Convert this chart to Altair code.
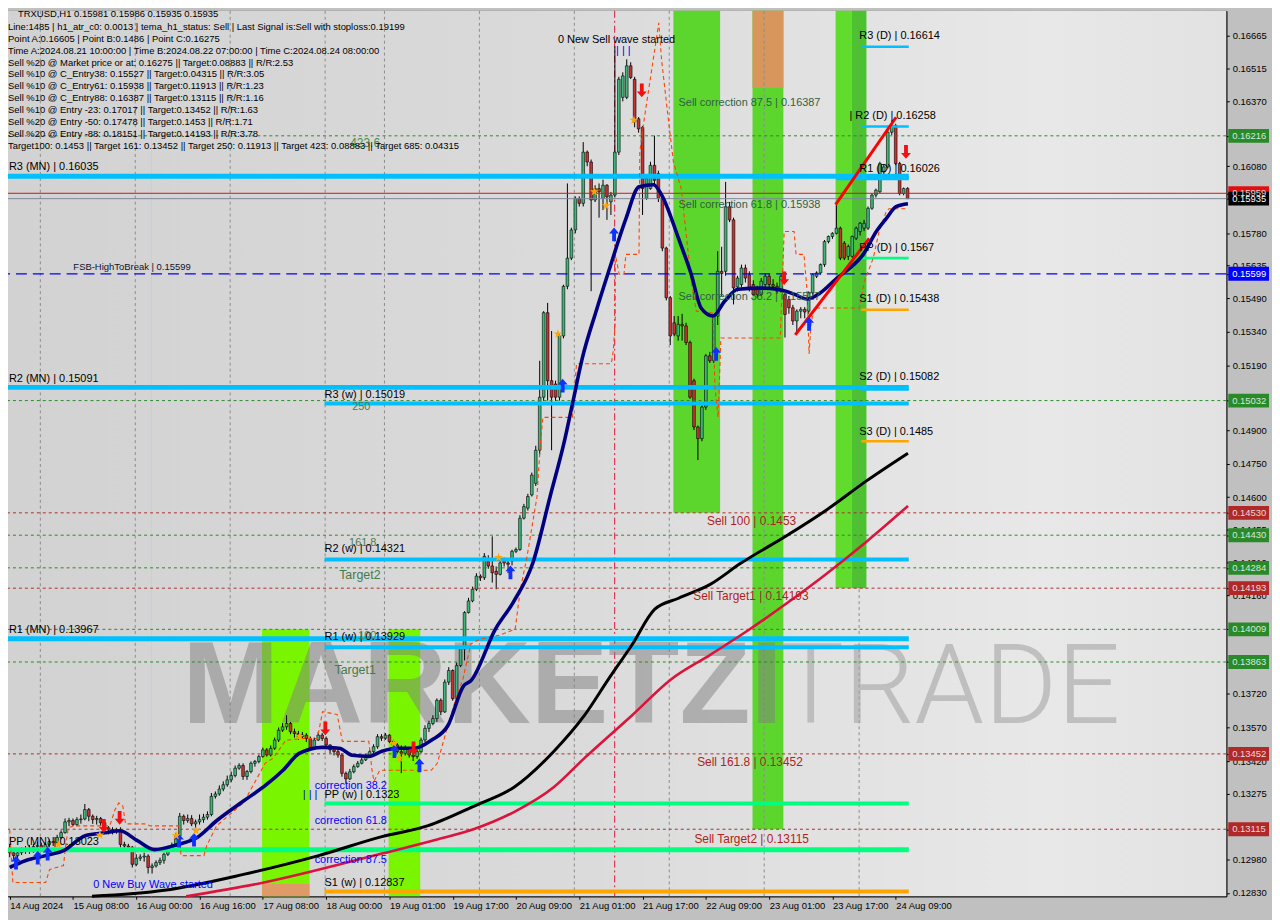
import altair as alt
import pandas as pd

# ---------------- data ----------------
bar_open = [
    0.13024, 0.13010, 0.12997, 0.13010, 0.13019, 0.13028, 0.13015, 0.13038, 0.13042, 0.13028, 0.13046, 0.13060,
    0.13055, 0.13078, 0.13100, 0.13148, 0.13154, 0.13136, 0.13158, 0.13161, 0.13203, 0.13173, 0.13158, 0.13163,
    0.13144, 0.13121, 0.13114, 0.13107, 0.13110, 0.13047, 0.13040, 0.13035, 0.12958, 0.12985, 0.12991, 0.12995,
    0.12944, 0.12951, 0.12966, 0.12976, 0.13003, 0.13021, 0.13040, 0.13084, 0.13173, 0.13154, 0.13163, 0.13139,
    0.13148, 0.13158, 0.13169, 0.13181, 0.13262, 0.13273, 0.13295, 0.13314, 0.13336, 0.13355, 0.13388, 0.13400,
    0.13351, 0.13373, 0.13410, 0.13418, 0.13440, 0.13470, 0.13447, 0.13477, 0.13514, 0.13558, 0.13573, 0.13588,
    0.13551, 0.13543, 0.13529, 0.13536, 0.13521, 0.13477, 0.13514, 0.13536, 0.13521, 0.13492, 0.13470, 0.13462,
    0.13447, 0.13365, 0.13340, 0.13372, 0.13395, 0.13410, 0.13425, 0.13440, 0.13462, 0.13484, 0.13529, 0.13522,
    0.13536, 0.13507, 0.13492, 0.13462, 0.13455, 0.13477, 0.13447, 0.13440, 0.13462, 0.13514, 0.13566, 0.13588,
    0.13610, 0.13692, 0.13640, 0.13773, 0.13825, 0.13699, 0.13847, 0.13921, 0.14084, 0.14136, 0.14188, 0.14247,
    0.14240, 0.14314, 0.14292, 0.14269, 0.14255, 0.14321, 0.14306, 0.14314, 0.14358, 0.14366, 0.14506, 0.14551,
    0.14610, 0.14662, 0.14810, 0.15047, 0.15425, 0.15121, 0.15106, 0.15047, 0.15321, 0.15543, 0.15669, 0.15795,
    0.15936, 0.15914, 0.16143, 0.16099, 0.15929, 0.15980, 0.15936, 0.15995, 0.15921, 0.15951, 0.16143, 0.16388,
    0.16388, 0.16529, 0.16469, 0.16292, 0.16254, 0.15936, 0.15980, 0.16084, 0.16047, 0.15936, 0.15714, 0.15492,
    0.15380, 0.15321, 0.15373, 0.15366, 0.15292, 0.15121, 0.14914, 0.14862, 0.15003, 0.15232, 0.15210, 0.15410,
    0.15610, 0.15610, 0.15899, 0.15840, 0.15540, 0.15551, 0.15625, 0.15595, 0.15551, 0.15536, 0.15506, 0.15551,
    0.15588, 0.15551, 0.15543, 0.15521, 0.15506, 0.15484, 0.15447, 0.15388, 0.15432, 0.15440, 0.15432, 0.15514,
    0.15588, 0.15603, 0.15640, 0.15743, 0.15766, 0.15780, 0.15803, 0.15736, 0.15677, 0.15677, 0.15758, 0.15788,
    0.15803, 0.15803, 0.15892, 0.15951, 0.15966, 0.16054, 0.16077, 0.16232, 0.16262, 0.16092, 0.15958, 0.15981,
]
bar_high = [
    0.13050, 0.13030, 0.13025, 0.13035, 0.13040, 0.13045, 0.13050, 0.13060, 0.13055, 0.13055, 0.13070, 0.13080,
    0.13090, 0.13110, 0.13163, 0.13166, 0.13163, 0.13169, 0.13181, 0.13228, 0.13210, 0.13181, 0.13175, 0.13170,
    0.13151, 0.13129, 0.13124, 0.13121, 0.13124, 0.13059, 0.13050, 0.13040, 0.13003, 0.13003, 0.13010, 0.13003,
    0.12962, 0.12976, 0.12988, 0.13010, 0.13035, 0.13055, 0.13099, 0.13188, 0.13181, 0.13181, 0.13178, 0.13158,
    0.13181, 0.13184, 0.13195, 0.13277, 0.13284, 0.13311, 0.13329, 0.13355, 0.13373, 0.13400, 0.13410, 0.13410,
    0.13380, 0.13418, 0.13425, 0.13448, 0.13480, 0.13478, 0.13490, 0.13525, 0.13570, 0.13590, 0.13625, 0.13595,
    0.13565, 0.13555, 0.13550, 0.13545, 0.13530, 0.13525, 0.13550, 0.13545, 0.13530, 0.13495, 0.13480, 0.13475,
    0.13455, 0.13373, 0.13385, 0.13405, 0.13420, 0.13435, 0.13450, 0.13470, 0.13495, 0.13540, 0.13540, 0.13545,
    0.13540, 0.13515, 0.13500, 0.13490, 0.13490, 0.13480, 0.13460, 0.13470, 0.13525, 0.13580, 0.13600, 0.13625,
    0.13700, 0.13700, 0.13785, 0.13840, 0.13830, 0.13860, 0.13930, 0.14090, 0.14150, 0.14200, 0.14260, 0.14255,
    0.14350, 0.14340, 0.14425, 0.14290, 0.14320, 0.14330, 0.14320, 0.14365, 0.14375, 0.14520, 0.14570, 0.14615,
    0.14710, 0.14830, 0.15210, 0.15432, 0.15469, 0.15343, 0.15121, 0.15330, 0.15550, 0.16003, 0.15805, 0.15945,
    0.15945, 0.16188, 0.16150, 0.16110, 0.15995, 0.16003, 0.16020, 0.16000, 0.15965, 0.16617, 0.16480, 0.16500,
    0.16558, 0.16545, 0.16480, 0.16300, 0.16260, 0.16040, 0.16100, 0.16217, 0.16060, 0.15945, 0.15720, 0.15500,
    0.15410, 0.15410, 0.15420, 0.15380, 0.15300, 0.15130, 0.14920, 0.15010, 0.15240, 0.15250, 0.15410, 0.15700,
    0.15720, 0.16010, 0.15920, 0.15850, 0.15590, 0.15640, 0.15640, 0.15610, 0.15570, 0.15545, 0.15580, 0.15600,
    0.15600, 0.15575, 0.15560, 0.15595, 0.15520, 0.15500, 0.15460, 0.15440, 0.15450, 0.15450, 0.15520, 0.15600,
    0.15610, 0.15645, 0.15750, 0.15770, 0.15785, 0.15906, 0.15810, 0.15745, 0.15730, 0.15770, 0.15810, 0.15830,
    0.15840, 0.15900, 0.15960, 0.15980, 0.16100, 0.16090, 0.16240, 0.16284, 0.16270, 0.16100, 0.15985, 0.15986,
]
bar_low = [
    0.12990, 0.12975, 0.12985, 0.13000, 0.13005, 0.13005, 0.13010, 0.13020, 0.13015, 0.13020, 0.13035, 0.13040,
    0.13050, 0.13070, 0.13095, 0.13129, 0.13129, 0.13129, 0.13140, 0.13155, 0.13151, 0.13139, 0.13136, 0.13129,
    0.13107, 0.13092, 0.13092, 0.13095, 0.13033, 0.13025, 0.13018, 0.12944, 0.12950, 0.12973, 0.12970, 0.12917,
    0.12917, 0.12944, 0.12955, 0.12961, 0.12995, 0.13015, 0.13035, 0.13077, 0.13136, 0.13144, 0.13129, 0.13121,
    0.13136, 0.13144, 0.13158, 0.13173, 0.13252, 0.13265, 0.13285, 0.13305, 0.13325, 0.13347, 0.13381, 0.13336,
    0.13336, 0.13365, 0.13395, 0.13410, 0.13435, 0.13440, 0.13440, 0.13470, 0.13505, 0.13550, 0.13560, 0.13540,
    0.13525, 0.13515, 0.13520, 0.13505, 0.13465, 0.13470, 0.13510, 0.13510, 0.13485, 0.13455, 0.13445, 0.13435,
    0.13350, 0.13322, 0.13335, 0.13365, 0.13390, 0.13405, 0.13420, 0.13435, 0.13455, 0.13475, 0.13510, 0.13515,
    0.13500, 0.13480, 0.13455, 0.13366, 0.13445, 0.13435, 0.13420, 0.13430, 0.13455, 0.13505, 0.13550, 0.13580,
    0.13595, 0.13625, 0.13635, 0.13760, 0.13690, 0.13690, 0.13840, 0.13870, 0.14080, 0.14130, 0.14180, 0.14225,
    0.14230, 0.14280, 0.14218, 0.14188, 0.14250, 0.14290, 0.14260, 0.14295, 0.14350, 0.14360, 0.14500, 0.14540,
    0.14603, 0.14650, 0.14790, 0.15030, 0.15032, 0.14810, 0.15030, 0.15032, 0.15310, 0.15530, 0.15660, 0.15780,
    0.15900, 0.15900, 0.16080, 0.15521, 0.15920, 0.15850, 0.15884, 0.15840, 0.15862, 0.15940, 0.16130, 0.16370,
    0.16380, 0.16470, 0.16254, 0.16230, 0.15862, 0.15930, 0.15975, 0.16000, 0.15920, 0.15700, 0.15480, 0.15280,
    0.15320, 0.15300, 0.15300, 0.15280, 0.15040, 0.14900, 0.14766, 0.14850, 0.14990, 0.15200, 0.15200, 0.15370,
    0.15500, 0.15590, 0.15830, 0.15462, 0.15520, 0.15540, 0.15560, 0.15520, 0.15500, 0.15490, 0.15500, 0.15540,
    0.15540, 0.15530, 0.15510, 0.15515, 0.15314, 0.15420, 0.15370, 0.15340, 0.15400, 0.15400, 0.15420, 0.15505,
    0.15580, 0.15595, 0.15630, 0.15735, 0.15755, 0.15775, 0.15660, 0.15660, 0.15660, 0.15670, 0.15750, 0.15770,
    0.15790, 0.15795, 0.15885, 0.15940, 0.15960, 0.16040, 0.16070, 0.16220, 0.16085, 0.15950, 0.15950, 0.15935,
]
bar_close = [
    0.13010, 0.12997, 0.13010, 0.13019, 0.13028, 0.13015, 0.13038, 0.13042, 0.13028, 0.13046, 0.13060, 0.13055,
    0.13078, 0.13100, 0.13148, 0.13154, 0.13136, 0.13158, 0.13161, 0.13203, 0.13173, 0.13158, 0.13163, 0.13144,
    0.13121, 0.13114, 0.13107, 0.13110, 0.13047, 0.13040, 0.13035, 0.12958, 0.12985, 0.12991, 0.12995, 0.12944,
    0.12951, 0.12966, 0.12976, 0.13003, 0.13021, 0.13040, 0.13084, 0.13173, 0.13154, 0.13163, 0.13139, 0.13148,
    0.13158, 0.13169, 0.13181, 0.13262, 0.13273, 0.13295, 0.13314, 0.13336, 0.13355, 0.13388, 0.13400, 0.13351,
    0.13373, 0.13410, 0.13418, 0.13440, 0.13470, 0.13447, 0.13477, 0.13514, 0.13558, 0.13573, 0.13588, 0.13551,
    0.13543, 0.13529, 0.13536, 0.13521, 0.13477, 0.13514, 0.13536, 0.13521, 0.13492, 0.13470, 0.13462, 0.13447,
    0.13365, 0.13340, 0.13372, 0.13395, 0.13410, 0.13425, 0.13440, 0.13462, 0.13484, 0.13529, 0.13522, 0.13536,
    0.13507, 0.13492, 0.13462, 0.13455, 0.13477, 0.13447, 0.13440, 0.13462, 0.13514, 0.13566, 0.13588, 0.13610,
    0.13692, 0.13640, 0.13773, 0.13825, 0.13699, 0.13847, 0.13921, 0.14084, 0.14136, 0.14188, 0.14247, 0.14240,
    0.14336, 0.14292, 0.14262, 0.14255, 0.14306, 0.14306, 0.14300, 0.14358, 0.14366, 0.14506, 0.14558, 0.14603,
    0.14699, 0.14810, 0.15047, 0.15425, 0.15121, 0.15047, 0.15047, 0.15321, 0.15543, 0.15669, 0.15795, 0.15936,
    0.15914, 0.16143, 0.16099, 0.15929, 0.15980, 0.15966, 0.15995, 0.15943, 0.15951, 0.16143, 0.16469, 0.16484,
    0.16529, 0.16477, 0.16277, 0.16247, 0.15980, 0.16025, 0.16084, 0.16017, 0.15936, 0.15714, 0.15492, 0.15321,
    0.15329, 0.15373, 0.15366, 0.15292, 0.15047, 0.14914, 0.14862, 0.15003, 0.15232, 0.15210, 0.15410, 0.15610,
    0.15600, 0.15899, 0.15840, 0.15536, 0.15580, 0.15625, 0.15580, 0.15536, 0.15506, 0.15506, 0.15566, 0.15588,
    0.15551, 0.15543, 0.15521, 0.15588, 0.15417, 0.15447, 0.15388, 0.15432, 0.15440, 0.15428, 0.15514, 0.15595,
    0.15603, 0.15640, 0.15743, 0.15766, 0.15780, 0.15803, 0.15669, 0.15669, 0.15721, 0.15766, 0.15803, 0.15825,
    0.15825, 0.15892, 0.15951, 0.15973, 0.16092, 0.16077, 0.16232, 0.16262, 0.16092, 0.15958, 0.15980, 0.15935,
]

time_labels = ["14 Aug 2024", "15 Aug 08:00", "16 Aug 00:00", "16 Aug 16:00", "17 Aug 08:00",
               "18 Aug 00:00", "19 Aug 01:00", "19 Aug 17:00", "20 Aug 09:00", "21 Aug 01:00",
               "21 Aug 17:00", "22 Aug 09:00", "23 Aug 01:00", "23 Aug 17:00", "24 Aug 09:00"]
time_label_bars = [0, 16, 32, 48, 64, 80, 96, 112, 128, 144, 160, 176, 192, 208, 224]

price_ticks = [0.16665, 0.16515, 0.16370, 0.16216, 0.16080, 0.15959, 0.15935, 0.15780, 0.15635, 0.15599,
               0.15490, 0.15340, 0.15190, 0.15032, 0.14900, 0.14750, 0.14600, 0.14530, 0.14455, 0.14430,
               0.14310, 0.14284, 0.14193, 0.14160, 0.14009, 0.13863, 0.13720, 0.13570, 0.13452, 0.13420,
               0.13275, 0.13115, 0.12980, 0.12830]

# highlighted price boxes on the right scale
box_price = [0.16216, 0.15959, 0.15935, 0.15599, 0.15032, 0.14530, 0.14430, 0.14284, 0.14193, 0.14009,
             0.13863, 0.13452, 0.13115]
box_fill = ["#2a8a2a", "#e01010", "#000000", "#0000ff", "#2a8a2a", "#b02828", "#2a8a2a", "#2a8a2a",
            "#b02828", "#2a8a2a", "#2a8a2a", "#b02828", "#b02828"]
box_text = ["#d8e8d8", "#f0d0d0", "#ffffff", "#ffffff", "#d8e8d8", "#f0d8d8", "#d8e8d8", "#d8e8d8",
            "#f0d8d8", "#d8e8d8", "#d8e8d8", "#f0d8d8", "#f0d8d8"]

# dotted level lines
green_levels = [0.16216, 0.15032, 0.14430, 0.14284, 0.14009, 0.13863]
red_levels = [0.14530, 0.14193, 0.13452, 0.13115]
fsb_level = 0.15599
ask_level = 0.15959
bid_level = 0.15935

# pivot lines: price, start bar, end bar, colour, width
piv_price = [0.16035, 0.15091, 0.13967, 0.13023, 0.15019, 0.14321, 0.13929, 0.13230, 0.12837,
             0.16614, 0.16258, 0.16026, 0.15670, 0.15438, 0.15082, 0.14850]
piv_start = [-0.42, -0.42, -0.42, -0.42, 79.6, 79.6, 79.6, 79.6, 79.6,
             215.3, 215.3, 208.9, 215.3, 215.3, 215.3, 215.3]
piv_end = [227.3] * 16
piv_color = ["#00bfff", "#00bfff", "#00bfff", "#00ff7f", "#00bfff", "#00bfff", "#00bfff", "#00ff7f", "#ffa500",
             "#00bfff", "#00bfff", "#00bfff", "#00ff7f", "#ffa500", "#00bfff", "#ffa500"]
piv_width = [5, 5, 5, 5, 4, 4, 4, 4, 4, 2.5, 2.5, 4, 2.5, 2.5, 2.5, 2.5]

# coloured time zones
band_start = [63.8, 63.8, 95.8, 167.8, 187.8, 187.8, 208.8, 212.8]
band_end = [75.8, 75.8, 103.8, 179.6, 195.6, 195.6, 212.8, 216.6]
band_top = [0.14009, 0.12870, 0.14009, 0.16775, 0.16775, 0.16775, 0.16775, 0.16775]
band_bottom = [0.12815, 0.12815, 0.12815, 0.14530, 0.13115, 0.16430, 0.14193, 0.14193]
band_color = ["#7af500", "#e09a68", "#7af500", "#5cd62c", "#5cd62c", "#d8955c", "#62dc2c", "#4cc22e"]

grid_bars = [7.75, 31.75, 55.75, 79.75, 94.75, 118.75, 142.75, 166.75, 190.75, 214.75]

# moving averages (bar, price)
ma_blue_bar = [0, 4.1, 9.1, 13.6, 19.1, 24.1, 27.8, 32.3, 36.6, 42.3, 47.3, 52.3, 59.1, 64.8, 69.1, 73.3,
               79.1, 83.3, 86.6, 90.8, 94.1, 98.3, 102.3, 106.6, 110.8, 114.8, 116.6, 122.8, 127.3, 132.3,
               136.6, 140.3, 142.3, 144.8, 148.3, 151.6, 155.8, 159.1, 162.8, 164.8, 169.1, 172.3, 174.8,
               177.8, 180.8, 184.1, 189.8, 194.1, 198.3, 201.6, 204.8, 209.1, 212.3, 215.8, 219.1, 221.6,
               224.1, 227.1]
ma_blue_val = [0.12944, 0.12975, 0.12997, 0.13019, 0.13086, 0.13099, 0.13108, 0.13064, 0.13024, 0.13046,
               0.13077, 0.13153, 0.13241, 0.13313, 0.13379, 0.13455, 0.13481, 0.13477, 0.13446, 0.13441,
               0.13464, 0.13477, 0.13477, 0.13513, 0.13579, 0.13757, 0.13779, 0.14010, 0.14130, 0.14308,
               0.14601, 0.14855, 0.15019, 0.15224, 0.15434, 0.15619, 0.15846, 0.15988, 0.15997, 0.15952,
               0.15757, 0.15597, 0.15446, 0.15410, 0.15477, 0.15530, 0.15535, 0.15530, 0.15508, 0.15486,
               0.15512, 0.15579, 0.15623, 0.15686, 0.15788, 0.15846, 0.15899, 0.15912]
ma_black_bar = [20.8, 39.1, 59.1, 78.1, 94.1, 105.8, 117.6, 127.6, 137.6, 145.3, 151.3, 157.3, 163.1,
                169.1, 177.1, 184.8, 196.8, 206.6, 216.6, 227.1]
ma_black_val = [0.12815, 0.12842, 0.12913, 0.12997, 0.13082, 0.13131, 0.13220, 0.13304, 0.13464, 0.13624,
                0.13784, 0.13939, 0.14099, 0.14148, 0.14210, 0.14304, 0.14432, 0.14544, 0.14673, 0.14797]
ma_red_bar = [44.6, 64.3, 94.1, 107.8, 117.6, 127.6, 137.6, 145.3, 157.3, 167.1, 177.1, 186.8, 196.8,
              206.6, 216.6, 227.1]
ma_red_val = [0.12815, 0.12877, 0.13006, 0.13068, 0.13117, 0.13193, 0.13304, 0.13433, 0.13624, 0.13784,
              0.13895, 0.14006, 0.14130, 0.14259, 0.14401, 0.14561]

# stepped trailing line (orange dashed)
trail_bar = [0, 0.8, 9.1, 10.1, 13.6, 14.1, 14.8, 16.1, 25.3, 26.6, 27.6, 28.6, 29.3, 34.1, 35.6, 42.8,
             43.3, 49.1, 49.8, 52.3, 59.1, 64.6, 66.6, 69.8, 74.1, 77.8, 79.1, 82.8, 84.1, 90.8, 91.6,
             92.1, 93.6, 106.6, 108.1, 110.8, 112.8, 114.6, 116.6, 119.1, 124.1, 127.8, 129.1, 130.8,
             133.3, 134.1, 134.8, 142.3, 143.3, 152.1, 152.6, 153.1, 153.1, 154.1, 155.3, 155.8, 159.1,
             159.3, 160.3, 164.1, 164.8, 166.6, 167.8, 169.8, 172.3, 173.6, 177.8, 178.3, 179.1, 179.8,
             194.8, 195.8, 198.3, 198.8, 200.8, 201.6, 202.1, 202.6, 203.3, 214.8, 216.1, 218.3, 219.8,
             221.6, 222.3, 227.1]
trail_val = [0.13113, 0.12877, 0.12877, 0.12935, 0.12953, 0.13033, 0.13121, 0.13130, 0.13130, 0.13201,
             0.13233, 0.13219, 0.13139, 0.13139, 0.13130, 0.13130, 0.12997, 0.12997, 0.13041, 0.13130,
             0.13233, 0.13410, 0.13433, 0.13513, 0.13521, 0.13521, 0.13641, 0.13628, 0.13508, 0.13508,
             0.13379, 0.13330, 0.13379, 0.13379, 0.13410, 0.13579, 0.13699, 0.13788, 0.13944, 0.13966,
             0.13984, 0.14010, 0.14188, 0.14335, 0.14601, 0.14824, 0.14957, 0.14957, 0.15197, 0.15197,
             0.15255, 0.15388, 0.15686, 0.15597, 0.15597, 0.15686, 0.15686, 0.16144, 0.16277, 0.16721,
             0.16557, 0.16277, 0.16099, 0.15979, 0.15566, 0.15432, 0.15423, 0.15090, 0.14957, 0.15312,
             0.15312, 0.15788, 0.15788, 0.15686, 0.15686, 0.15521, 0.15241, 0.15375, 0.15446, 0.15446,
             0.15566, 0.15668, 0.15788, 0.15877, 0.15890, 0.15890]

# red trend lines
trend_id = ["a", "a", "b", "b"]
trend_bar = [198.6, 217.3, 208.8, 224.1]
trend_val = [0.15326, 0.15757, 0.15908, 0.16299]

# signal arrows / stars (bar, price)
buy_bar = [1.6, 7.1, 9.6, 42.8, 46.6, 97.3, 103.6, 126.6, 139.8, 152.8, 178.6, 202.1]
buy_val = [0.12966, 0.12988, 0.13006, 0.13064, 0.13068, 0.13464, 0.13401, 0.14264, 0.15099, 0.15775,
           0.15241, 0.15375]
sell_bar = [23.8, 27.8, 79.8, 102.1, 159.8, 195.8, 226.6]
sell_val = [0.13130, 0.13166, 0.13566, 0.13477, 0.16419, 0.15579, 0.16144]
star_bar = [12.3, 22.8, 42.1, 47.1, 73.3, 97.1, 98.6, 123.6, 138.6, 147.8, 150.8, 157.8]
star_val = [0.13046, 0.13090, 0.13086, 0.13108, 0.13530, 0.13499, 0.13433, 0.14330, 0.15330, 0.15966,
            0.15904, 0.16286]

# chart labels
ann_text = ["R3 (MN) | 0.16035", "FSB-HighToBreak | 0.15599", "R2 (MN) | 0.15091", "R3 (w) | 0.15019", "250",
            "161.8", "R2 (w) | 0.14321", "Target2", "R1 (MN) | 0.13967", "R1 (w) | 0.13929", "100", "Target1",
            "correction 38.2", "| | |", "PP (w) | 0.1323", "correction 61.8", "correction 87.5",
            "S1 (w) | 0.12837", "PP (MN) | 0.13023", "0 New Buy Wave started", "0 New Sell wave started",
            "| | |", "423.6", "Sell correction 87.5 | 0.16387", "Sell correction 61.8 | 0.15938",
            "Sell correction 38.2 | 0.15527", "Sell 100 | 0.1453", "Sell Target1 | 0.14193",
            "Sell 161.8 | 0.13452", "Sell Target2 | 0.13115", "R3 (D) | 0.16614", "| R2 (D) | 0.16258",
            "R1 (D) | 0.16026", "PP (D) | 0.1567", "S1 (D) | 0.15438", "S2 (D) | 0.15082", "S3 (D) | 0.1485"]
ann_bar = [-0.2, 16.1, -0.2, 79.6, 86.6, 85.8, 79.6, 83.3, -0.2, 79.6, 88.1, 82.1, 77.1, 74.1, 79.6, 77.1,
           77.1, 79.6, -0.2, 21.1, 138.6, 153.3, 86.1, 169.1, 169.1, 169.1, 176.3, 172.8, 173.8, 173.1,
           214.8, 212.3, 214.8, 214.8, 214.8, 214.8, 214.8]
ann_val = [0.16077, 0.15628, 0.15130, 0.15059, 0.15001, 0.14393, 0.14366, 0.14250, 0.14006, 0.13975,
           0.13979, 0.13827, 0.13310, 0.13266, 0.13268, 0.13150, 0.12977, 0.12873, 0.13060, 0.12864,
           0.16646, 0.16597, 0.16184, 0.16361, 0.15908, 0.15495, 0.14495, 0.14157, 0.13415, 0.13073,
           0.16664, 0.16304, 0.16068, 0.15713, 0.15486, 0.15139, 0.14891]
ann_color = ["#000000", "#101030", "#000000", "#000000", "#4e7a4e", "#4e7a4e", "#000000", "#4a784a",
             "#000000", "#000000", "#4e7a4e", "#4a784a", "#0000ff", "#0000ff", "#000000", "#0000ff",
             "#0000ff", "#000000", "#000000", "#0000ff", "#000000", "#0000ff", "#4e8a4e", "#2f5f45",
             "#2f5f45", "#2f5f45", "#b22222", "#b22222", "#b22222", "#b22222", "#000000", "#000000",
             "#000000", "#000000", "#000000", "#000000", "#000000"]
ann_size = [11, 9.5, 11, 11, 11, 11, 11, 12.5, 11, 11, 11, 12.5, 11, 11, 11, 11, 11, 11, 11, 11, 11, 11,
            12, 11, 11, 11, 12, 12, 12, 12, 11, 11, 11, 11, 11, 11, 11]

info_head = "TRXUSD,H1  0.15981 0.15986 0.15935 0.15935"
info_lines = [
    "Line:1485 | h1_atr_c0: 0.0013 | tema_h1_status: Sell | Last Signal is:Sell with stoploss:0.19199",
    "Point A:0.16605 | Point B:0.1486 | Point C:0.16275",
    "Time A:2024.08.21 10:00:00 | Time B:2024.08.22 07:00:00 | Time C:2024.08.24 08:00:00",
    "Sell %20 @ Market price or at: 0.16275 || Target:0.08883 || R/R:2.53",
    "Sell %10 @ C_Entry38: 0.15527 || Target:0.04315 || R/R:3.05",
    "Sell %10 @ C_Entry61: 0.15938 || Target:0.11913 || R/R:1.23",
    "Sell %10 @ C_Entry88: 0.16387 || Target:0.13115 || R/R:1.16",
    "Sell %10 @ Entry -23: 0.17017 || Target:0.13452 || R/R:1.63",
    "Sell %20 @ Entry -50: 0.17478 || Target:0.1453 || R/R:1.71",
    "Sell %20 @ Entry -88: 0.18151 || Target:0.14193 || R/R:3.78",
    "Target100: 0.1453 || Target 161: 0.13452 || Target 250: 0.11913 || Target 423: 0.08883 || Target 685: 0.04315",
]

# ---------------- chart ----------------
W, H = 1226, 891
FONT = "Liberation Sans"
xs = alt.Scale(domain=[-0.425, 307.575], nice=False, zero=False)
ys = alt.Scale(domain=[0.128153, 0.167748], nice=False, zero=False)

label_expr = " : ".join(
    "datum.value == %d ? '%s'" % (b, t) for b, t in zip(time_label_bars, time_labels)) + " : ''"

x_axis = alt.Axis(values=time_label_bars, labelExpr=label_expr,
                  labelAlign="left", labelBaseline="top", labelFont=FONT, labelFontSize=9.5,
                  labelColor="#000000", tickColor="#000000", tickSize=3, domainColor="#000000",
                  grid=False, title=None, labelPadding=1, labelFlush=False, labelOverlap=False,
                  orient="bottom")
y_axis = alt.Axis(orient="right", values=price_ticks, format=".5f", labelFont=FONT, labelFontSize=9.5,
                  labelColor="#000000", tickColor="#000000", tickSize=3, domainColor="#000000",
                  grid=False, title=None, labelPadding=3, labelOverlap=False, labelFlush=False)


def XQ(f, axis=None):
    return alt.X(f, type="quantitative", scale=xs, axis=axis)


def YQ(f, axis=None):
    return alt.Y(f, type="quantitative", scale=ys, axis=axis)


one = alt.Data(values=[{"k": 0}])

bg = alt.Chart(one).mark_rect(
    fill=alt.Gradient(gradient="linear", x1=0, x2=1, y1=0, y2=0,
                      stops=[alt.GradientStop(color="#d2d2d2", offset=0),
                             alt.GradientStop(color="#dadada", offset=0.45),
                             alt.GradientStop(color="#e8e8e8", offset=0.85),
                             alt.GradientStop(color="#e2e2e2", offset=1)])
).encode(x=alt.value(0), x2=alt.value(W), y=alt.value(0), y2=alt.value(H))

bands_df = pd.DataFrame({"x1": band_start, "x2": band_end, "y1": band_top, "y2": band_bottom, "col": band_color})
bands = alt.Chart(bands_df).mark_rect().encode(
    x=XQ("x1", x_axis), x2="x2", y=YQ("y1", y_axis), y2="y2", fill=alt.Fill("col:N", scale=None))

grid = alt.Chart(pd.DataFrame({"b": grid_bars})).mark_rule(
    color="#8c8c8c", strokeDash=[3, 3], strokeWidth=1).encode(x=XQ("b", x_axis))
vline_a = alt.Chart(pd.DataFrame({"b": [152.95]})).mark_rule(
    color="#dc143c", strokeDash=[7, 3, 2, 3], strokeWidth=1).encode(x=XQ("b", x_axis))
vline_c = alt.Chart(pd.DataFrame({"b": [35.85]})).mark_rule(
    color="#a8dcea", strokeWidth=1).encode(x=XQ("b", x_axis))

wm1 = alt.Chart(pd.DataFrame({"t": ["MARKETZI"], "b": [43.6], "p": [0.13588]})).mark_text(
    align="left", baseline="alphabetic", font=FONT, fontSize=117, fontWeight="bold",
    color="#808080", opacity=0.5).encode(x=XQ("b", x_axis), y=YQ("p", y_axis), text="t:N")
wm2 = alt.Chart(pd.DataFrame({"t": ["TRADE"], "b": [194.1], "p": [0.13588]})).mark_text(
    align="left", baseline="alphabetic", font="Roboto", fontSize=112, fontWeight=300,
    color="#a0a0a0", opacity=0.55).encode(x=XQ("b", x_axis), y=YQ("p", y_axis), text="t:N")

candles = pd.DataFrame({"b": list(range(len(bar_close))), "o": bar_open, "h": bar_high,
                        "l": bar_low, "c": bar_close})

wicks = alt.Chart(candles).mark_rule(color="#000000", strokeWidth=1).encode(
    x=XQ("b", x_axis), y=YQ("l", y_axis), y2="h")
bodies = alt.Chart(candles).transform_calculate(
    x1="datum.b - 0.34", x2="datum.b + 0.34").mark_rect(stroke="#000000", strokeWidth=0.6).encode(
    x=XQ("x1", x_axis), x2="x2", y=YQ("o", y_axis), y2="c",
    fill=alt.condition("datum.c >= datum.o", alt.value("#3cb878"), alt.value("#c83232")))

lv_green = alt.Chart(pd.DataFrame({"p": green_levels})).mark_rule(
    color="#2a8a2a", strokeDash=[3, 3], strokeWidth=1).encode(y=YQ("p", y_axis))
lv_red = alt.Chart(pd.DataFrame({"p": red_levels})).mark_rule(
    color="#a83030", strokeDash=[3, 3], strokeWidth=1).encode(y=YQ("p", y_axis))
lv_fsb = alt.Chart(pd.DataFrame({"p": [fsb_level]})).mark_rule(
    color="#0000ff", strokeDash=[11, 6], strokeWidth=1.3).encode(y=YQ("p", y_axis))
lv_ask = alt.Chart(pd.DataFrame({"p": [ask_level]})).mark_rule(
    color="#e01010", strokeWidth=1).encode(y=YQ("p", y_axis))
lv_bid = alt.Chart(pd.DataFrame({"p": [bid_level]})).mark_rule(
    color="#7a8898", strokeWidth=1).encode(y=YQ("p", y_axis))

piv_df = pd.DataFrame({"p": piv_price, "x1": piv_start, "x2": piv_end, "col": piv_color, "w": piv_width})
pivots = alt.Chart(piv_df).mark_rule(strokeCap="butt").encode(
    x=XQ("x1", x_axis), x2="x2", y=YQ("p", y_axis), color=alt.Color("col:N", scale=None),
    strokeWidth=alt.StrokeWidth("w:Q", scale=None))


def ma_line(bars, vals, color, width, dash=None):
    df = pd.DataFrame({"b": bars, "p": vals, "k": list(range(len(bars)))})
    if dash:
        mk = alt.Chart(df).mark_line(color=color, strokeWidth=width, strokeDash=dash)
    else:
        mk = alt.Chart(df).mark_line(color=color, strokeWidth=width, interpolate="monotone")
    return mk.encode(x=XQ("b", x_axis), y=YQ("p", y_axis), order="k:Q")


ma_black = ma_line(ma_black_bar, ma_black_val, "#000000", 3)
ma_red = ma_line(ma_red_bar, ma_red_val, "#dc143c", 2.6)
trail = ma_line(trail_bar, trail_val, "#ff4500", 1.1, dash=[4, 3])
ma_blue = ma_line(ma_blue_bar, ma_blue_val, "#000080", 3.6)

trend = alt.Chart(pd.DataFrame({"id": trend_id, "b": trend_bar, "p": trend_val})).mark_line(
    color="#ff0000", strokeWidth=3).encode(x=XQ("b", x_axis), y=YQ("p", y_axis), detail="id:N")

UP = "M0,-1L0.72,-0.15L0.28,-0.15L0.28,1L-0.28,1L-0.28,-0.15L-0.72,-0.15Z"
DOWN = "M0,1L0.72,0.15L0.28,0.15L0.28,-1L-0.28,-1L-0.28,0.15L-0.72,0.15Z"
STAR = ("M0,-1L0.224,-0.309L0.951,-0.309L0.363,0.118L0.588,0.809L0,0.382L-0.588,0.809"
        "L-0.363,0.118L-0.951,-0.309L-0.224,-0.309Z")
buys = alt.Chart(pd.DataFrame({"b": buy_bar, "p": buy_val})).mark_point(
    shape=UP, filled=True, size=190, color="#1030ff", opacity=1).encode(x=XQ("b", x_axis), y=YQ("p", y_axis))
sells = alt.Chart(pd.DataFrame({"b": sell_bar, "p": sell_val})).mark_point(
    shape=DOWN, filled=True, size=190, color="#f01010", opacity=1).encode(x=XQ("b", x_axis), y=YQ("p", y_axis))
stars = alt.Chart(pd.DataFrame({"b": star_bar, "p": star_val})).mark_point(
    shape=STAR, filled=True, size=90, color="#ffa500", opacity=1).encode(x=XQ("b", x_axis), y=YQ("p", y_axis))

ann_df = pd.DataFrame({"t": ann_text, "b": ann_bar, "p": ann_val, "col": ann_color, "s": ann_size})
labels = alt.Chart(ann_df).mark_text(align="left", baseline="middle", font=FONT).encode(
    x=XQ("b", x_axis), y=YQ("p", y_axis), text="t:N", color=alt.Color("col:N", scale=None),
    size=alt.Size("s:Q", scale=None))

head = alt.Chart(alt.Data(values=[{"t": info_head}])).mark_text(
    align="left", baseline="middle", font=FONT, fontSize=9.5, color="#000000").encode(
    x=alt.value(10), y=alt.value(3.5), text="t:N")
info = alt.Chart(alt.Data(values=[{"t": "\n".join(info_lines)}])).mark_text(
    align="left", baseline="top", font=FONT, fontSize=9.5, color="#000000",
    lineBreak="\n", lineHeight=12).encode(x=alt.value(0), y=alt.value(11), text="t:N")

box_df = pd.DataFrame({"p": box_price, "bg": box_fill, "fg": box_text,
                       "t": ["%.5f" % v for v in box_price]})
boxes = alt.Chart(box_df).transform_calculate(
    top="datum.p + 0.00031", bot="datum.p - 0.00031").mark_rect(clip=False).encode(
    x=alt.value(W + 2), x2=alt.value(W + 43), y=YQ("top", y_axis), y2="bot", fill=alt.Fill("bg:N", scale=None))
box_labels = alt.Chart(box_df).mark_text(
    align="left", baseline="middle", font=FONT, fontSize=9.5, clip=False).encode(
    x=alt.value(W + 6), y=YQ("p", y_axis), text="t:N", color=alt.Color("fg:N", scale=None))

chart = alt.layer(
    bg, bands, grid, vline_c, vline_a, wm1, wm2, wicks, bodies,
    lv_green, lv_red, lv_fsb, lv_ask, lv_bid, pivots,
    ma_black, ma_red, trail, ma_blue, trend, buys, sells, stars,
    labels, head, info, boxes, box_labels,
).properties(
    width=W, height=H,
    padding={"left": 0, "top": 0, "right": 46, "bottom": 21},
    autosize=alt.AutoSizeParams(type="none"),
    background="#c0c0c0",
).configure_view(stroke="#000000", strokeWidth=1)

chart.save("out.html", embed_options={"renderer": "svg", "actions": False})
